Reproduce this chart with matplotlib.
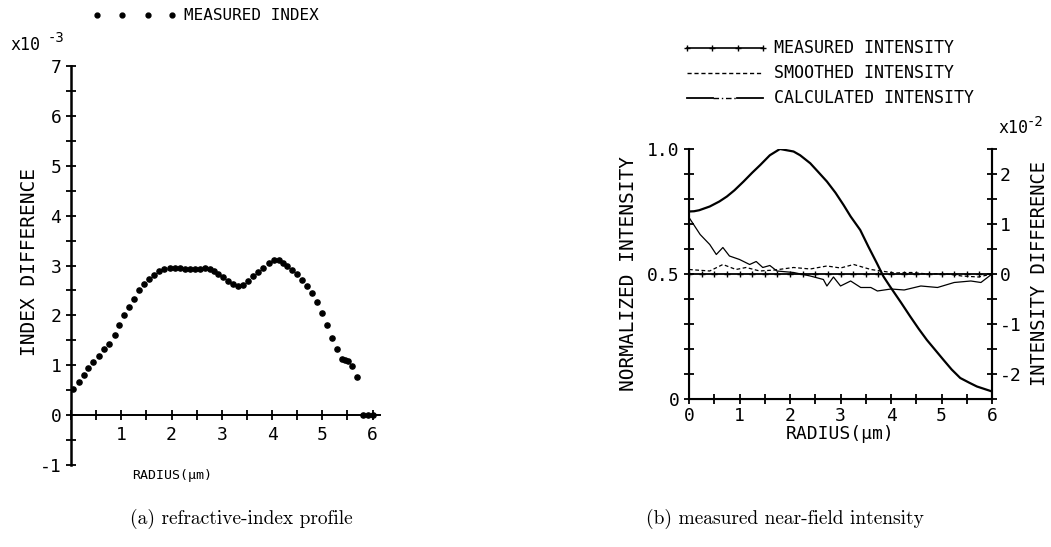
import matplotlib
matplotlib.use("Agg")
import matplotlib.pyplot as plt
from matplotlib.lines import Line2D
from matplotlib.ticker import MultipleLocator, FixedLocator

# ----------------------------------------------------------------------------------------------------------------------
# (a) refractive-index profile, index difference in units of 1e-3
index_r = [0.03, 0.15, 0.25, 0.34, 0.44, 0.56, 0.66, 0.76, 0.87, 0.96, 1.06, 1.16, 1.26, 1.36, 1.46,
           1.56, 1.66, 1.76, 1.86, 1.97, 2.07, 2.17, 2.27, 2.37, 2.47, 2.57, 2.67, 2.77, 2.85, 2.93,
           3.03, 3.13, 3.23, 3.33, 3.43, 3.53, 3.63, 3.73, 3.83, 3.93, 4.03, 4.13, 4.21, 4.29, 4.39,
           4.49, 4.59, 4.69, 4.79, 4.89, 4.99, 5.09, 5.19, 5.29, 5.39, 5.46, 5.52, 5.59, 5.70, 5.81,
           5.91, 6.01]
index_dn = [0.53, 0.67, 0.80, 0.95, 1.07, 1.18, 1.32, 1.43, 1.60, 1.80, 2.00, 2.17, 2.33, 2.51, 2.64,
            2.73, 2.81, 2.89, 2.93, 2.96, 2.96, 2.95, 2.94, 2.93, 2.93, 2.94, 2.95, 2.93, 2.89, 2.83,
            2.77, 2.69, 2.63, 2.60, 2.62, 2.70, 2.79, 2.87, 2.96, 3.05, 3.12, 3.12, 3.05, 2.99, 2.91,
            2.83, 2.71, 2.59, 2.45, 2.27, 2.05, 1.80, 1.55, 1.32, 1.12, 1.10, 1.09, 0.99, 0.77, 0.0,
            0.0, 0.0]

# (b) near-field intensity (left axis) and differences (right axis, units of 1e-2)
calc_r = [0.0, 0.1, 0.2, 0.41, 0.6, 0.75, 0.9, 1.08, 1.25, 1.41, 1.6, 1.8, 2.07, 2.2, 2.4, 2.55,
          2.73, 2.9, 3.06, 3.2, 3.39, 3.55, 3.72, 3.85, 3.98, 4.2, 4.38, 4.55, 4.71, 4.9, 5.04,
          5.2, 5.37, 5.55, 5.7, 5.85, 6.0]
calc_i = [0.75, 0.751, 0.755, 0.77, 0.79, 0.81, 0.835, 0.87, 0.905, 0.936, 0.975, 1.0, 0.99, 0.975,
          0.943, 0.91, 0.87, 0.825, 0.776, 0.73, 0.676, 0.61, 0.543, 0.49, 0.45, 0.385, 0.33,
          0.28, 0.236, 0.19, 0.156, 0.118, 0.084, 0.065, 0.05, 0.04, 0.03]

meas_diff_r = [0.0, 0.22, 0.41, 0.54, 0.67, 0.8, 1.0, 1.2, 1.33, 1.46, 1.6, 1.74, 2.07, 2.4, 2.66,
               2.73, 2.86, 3.0, 3.2, 3.4, 3.6, 3.73, 4.0, 4.26, 4.59, 4.92, 5.25, 5.58, 5.78, 6.0]
meas_diff = [1.13, 0.79, 0.59, 0.39, 0.53, 0.36, 0.29, 0.19, 0.25, 0.13, 0.17, 0.06, 0.03, -0.04,
             -0.11, -0.24, -0.06, -0.24, -0.14, -0.27, -0.27, -0.34, -0.30, -0.32, -0.24, -0.27,
             -0.17, -0.14, -0.17, 0.0]

smooth_diff_r = [0.0, 0.41, 0.67, 0.93, 1.13, 1.4, 1.7, 2.07, 2.4, 2.73, 3.0, 3.26, 3.6, 4.07, 4.4,
                 4.73, 5.06, 5.4, 5.73, 6.0]
smooth_diff = [0.09, 0.06, 0.19, 0.09, 0.13, 0.06, 0.08, 0.13, 0.10, 0.16, 0.12, 0.19, 0.09, 0.02,
               0.03, 0.0, 0.01, -0.04, -0.06, 0.0]

zero_r = [0.0, 0.25, 0.5, 0.75, 1.0, 1.25, 1.5, 1.75, 2.0, 2.25, 2.5, 2.75, 3.0, 3.25, 3.5, 3.75,
          4.0, 4.25, 4.5, 4.75, 5.0, 5.25, 5.5, 5.75, 6.0]
zero_diff = [0.0] * len(zero_r)

left_yticks = [-1, 0, 1, 2, 3, 4, 5, 6, 7]
left_xticks = [1, 2, 3, 4, 5, 6]
right_xticks = [0, 1, 2, 3, 4, 5, 6]
norm_ticks = [0, 0.5, 1.0]
norm_labels = ["0", "0.5", "1.0"]
diff_ticks = [-2, -1, 0, 1, 2]

# ----------------------------------------------------------------------------------------------------------------------
MONO = "DejaVu Sans Mono"
plt.rcParams["font.family"] = MONO
plt.rcParams["axes.unicode_minus"] = False

fig = plt.figure(figsize=(10.51, 5.47), dpi=100)

# Left panel
ax1 = fig.add_axes([0.0676, 0.150, 0.294, 0.729])
ax1.scatter(index_r, index_dn, s=14, color="black", zorder=3)
ax1.set_xlim(0, 6.15)
ax1.set_ylim(-1, 7)
for side in ["top", "right"]:
    ax1.spines[side].set_visible(False)
ax1.spines["bottom"].set_position(("data", 0))
ax1.spines["left"].set_linewidth(1.8)
ax1.spines["bottom"].set_linewidth(1.4)
ax1.set_yticks(left_yticks)
ax1.set_xticks(left_xticks)
ax1.yaxis.set_minor_locator(MultipleLocator(0.5))
ax1.xaxis.set_minor_locator(MultipleLocator(0.5))
ax1.tick_params(which="both", direction="inout", length=7, width=1.3, labelsize=13)
ax1.tick_params(axis="x", pad=4)
fig.text(30 / 1051, 1 - 262 / 547, "INDEX DIFFERENCE", rotation=90, ha="center", va="center",
         fontsize=14)
fig.text(172 / 1051, 1 - 475 / 547, "RADIUS(μm)", ha="center", va="center", fontsize=9.5)
fig.text(0.010, 0.918, "x10", fontsize=12, va="center")
fig.text(0.045, 0.930, "-3", fontsize=10, va="center")

# Legend for left panel
for dx in [97, 122, 148, 172]:
    fig.add_artist(Line2D([dx / 1051], [1 - 15 / 547], marker="o", markersize=3.5,
                          color="black", linestyle="none"))
fig.text(184 / 1051, 1 - 15 / 547, "MEASURED INDEX", fontsize=11.5, va="center")

# Right panel
ax2 = fig.add_axes([0.6556, 0.2706, 0.2883, 0.4570])
ax2.plot(calc_r, calc_i, color="black", lw=1.6)
ax2.set_xlim(0, 6)
ax2.set_ylim(0, 1)
ax2.spines["top"].set_visible(False)
for side in ["left", "right", "bottom"]:
    ax2.spines[side].set_linewidth(1.5)
ax2.set_yticks(norm_ticks)
ax2.set_yticklabels(norm_labels)
ax2.yaxis.set_minor_locator(MultipleLocator(0.1))
ax2.set_xticks(right_xticks)
ax2.xaxis.set_minor_locator(MultipleLocator(0.5))
ax2.tick_params(which="both", direction="inout", length=7, width=1.3, labelsize=13)
ax2.tick_params(axis="x", pad=2)
ax2.set_ylabel("NORMALIZED INTENSITY", fontsize=14, labelpad=6)
ax2.set_xlabel("RADIUS(μm)", fontsize=13, labelpad=0)

ax3 = ax2.twinx()
ax3.set_ylim(-2.5, 2.5)
ax3.spines["top"].set_visible(False)
ax3.spines["right"].set_linewidth(1.5)
ax3.plot(zero_r, zero_diff, color="black", lw=1.3, marker="+", markersize=5, markeredgewidth=1.0)
ax3.plot(meas_diff_r, meas_diff, color="black", lw=0.9)
ax3.plot(smooth_diff_r, smooth_diff, color="black", lw=0.9, linestyle=(0, (3, 2)))
ax3.set_yticks(diff_ticks)
ax3.yaxis.set_minor_locator(FixedLocator([-2.5, -1.5, -0.5, 0.5, 1.5, 2.5]))
ax3.tick_params(which="both", direction="inout", length=7, width=1.3, labelsize=13, pad=2)
ax3.set_ylabel("INTENSITY DIFFERENCE", fontsize=13.5, labelpad=6)
fig.text(998 / 1051, 1 - 128 / 547, "x10", fontsize=12, va="center")
fig.text(1027 / 1051, 1 - 122 / 547, "-2", fontsize=10, va="center")

# Legend for right panel
x0, x1 = 687 / 1051, 763 / 1051
ly = [1 - 48 / 547, 1 - 73 / 547, 1 - 98 / 547]
fig.add_artist(Line2D([x0, x1], [ly[0], ly[0]], color="black", lw=1.2))
fig.add_artist(Line2D([x0, 712 / 1051, 738 / 1051, x1], [ly[0]] * 4, color="black",
                      marker="+", markersize=4, linestyle="none"))
fig.add_artist(Line2D([x0, x1], [ly[1], ly[1]], color="black", lw=1.0, linestyle=(0, (3, 2))))
fig.add_artist(Line2D([x0, 713 / 1051], [ly[2], ly[2]], color="black", lw=1.3))
fig.add_artist(Line2D([713 / 1051, 737 / 1051], [ly[2], ly[2]], color="black", lw=1.0,
                      linestyle=(0, (4, 2, 1, 2))))
fig.add_artist(Line2D([737 / 1051, x1], [ly[2], ly[2]], color="black", lw=1.3))
legend_labels = ["MEASURED INTENSITY", "SMOOTHED INTENSITY", "CALCULATED INTENSITY"]
for y, lab in zip(ly, legend_labels):
    fig.text(774 / 1051, y, lab, fontsize=12, va="center")

# Captions
fig.text(241 / 1051, 1 - 519 / 547, "(a) refractive-index profile", fontsize=14,
         family="cmr10", ha="center", va="center")
fig.text(785 / 1051, 1 - 519 / 547, "(b) measured near-field intensity", fontsize=14,
         family="cmr10", ha="center", va="center")

fig.savefig("out.png", dpi=100)
